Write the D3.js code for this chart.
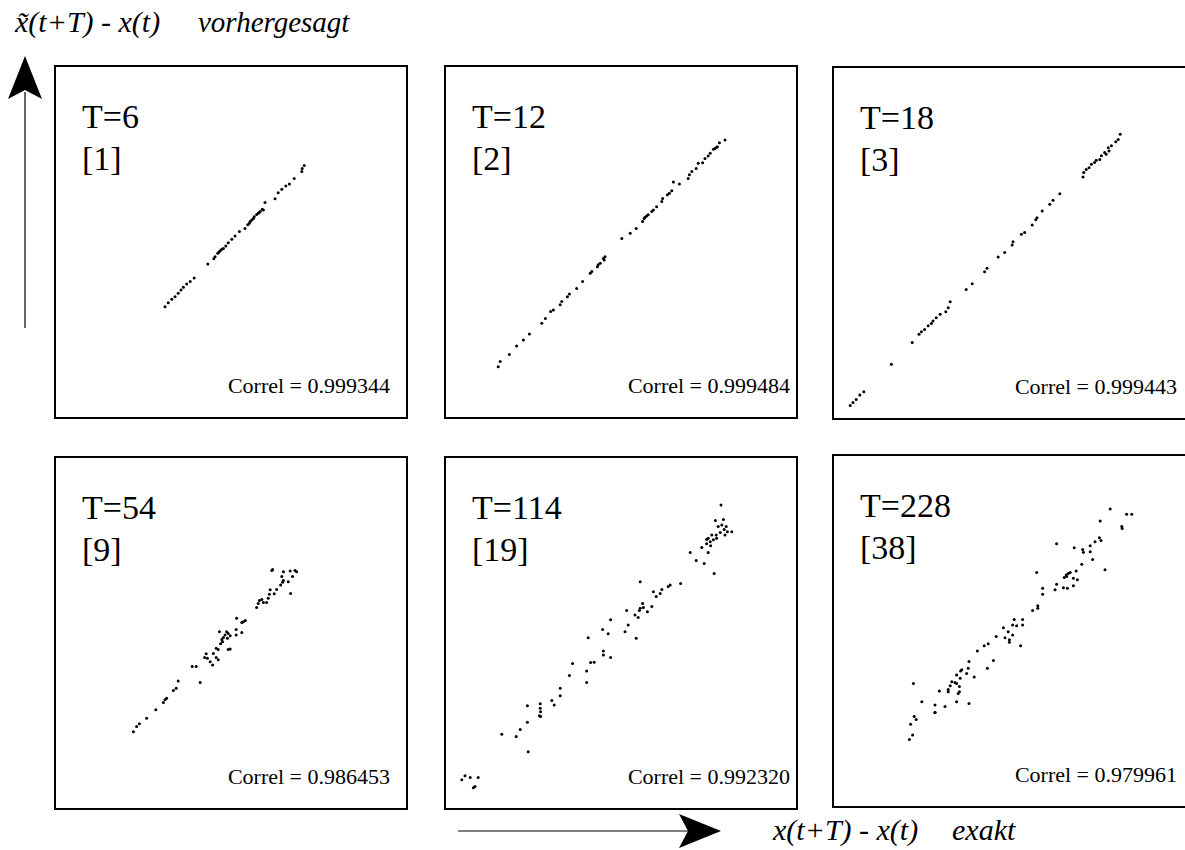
<!DOCTYPE html>
<html>
<head>
<meta charset="utf-8">
<script src="https://cdn.jsdelivr.net/npm/d3@7"></script>
<style>
  body { margin: 0; background: #fff; }
  svg { display: block; }
</style>
</head>
<body>
<svg id="chart" width="1185" height="850"></svg>
<script>
// prediction horizon T and number of steps
const horizons = [6, 12, 18, 54, 114, 228];
const steps = [1, 2, 3, 9, 19, 38];
const correls = ["0.999344", "0.999484", "0.999443", "0.986453", "0.992320", "0.979961"];

// exact x(t+T)-x(t) vs predicted (arbitrary units 0..88)
const exact_T6 = [62.3,61.8,61.7,59.8,58.6,57.7,56.7,55.8,55.0,52.5,51.8,51.3,50.8,50.4,49.8,49.2,48.6,48.2,47.5,46.1,45.0,44.2,43.3,42.7,42.1,41.3,40.7,40.0,39.7,38.2,34.8,33.8,32.9,32.1,31.5,30.8,30.0,29.2,28.3,27.5,48.8,49.6,41.7,41.0,51.0,52.1];
const pred_T6 = [63.1,62.4,61.6,59.9,58.5,58.0,57.2,56.3,54.8,53.9,52.2,51.6,51.2,50.9,50.3,49.5,48.7,48.3,47.4,46.6,45.5,44.7,43.8,43.0,42.4,41.8,41.2,40.3,39.8,38.5,35.0,34.1,33.5,32.7,32.0,31.2,30.3,29.7,28.8,27.8,49.1,49.9,42.2,41.5,51.3,52.0];

const exact_T12 = [70.0,68.6,68.1,67.1,67.5,66.3,65.8,65.0,64.4,63.3,62.8,61.7,61.1,60.8,58.6,57.1,56.7,56.1,55.6,54.4,54.2,52.9,52.1,51.7,50.4,49.8,49.4,47.8,46.3,44.2,40.0,39.8,38.8,38.1,36.7,36.3,34.4,32.9,31.1,30.6,29.2,28.8,27.1,26.4,25.1,24.2,21.1,19.6,17.9,16.1,13.8,13.3,50.0,50.8,67.9,39.6,38.3];
const pred_T12 = [69.5,68.8,67.8,67.2,67.4,66.2,65.5,64.9,63.8,63.7,62.4,61.6,60.8,59.9,58.5,59.0,56.8,56.2,55.8,54.9,54.1,52.8,52.0,51.6,50.5,49.9,49.1,47.4,46.2,44.9,40.3,39.5,38.7,37.8,36.6,36.2,34.1,32.4,31.0,30.3,29.1,28.3,27.0,26.6,24.9,23.7,21.0,19.5,18.0,15.9,14.1,12.8,50.2,50.8,67.7,39.9,38.3];

const exact_T18 = [71.8,71.3,70.7,69.6,68.8,69.0,67.9,68.3,67.1,66.7,65.8,65.4,64.6,64.0,63.3,62.7,62.5,56.7,55.0,54.2,52.3,51.0,50.7,49.8,47.9,47.1,45.0,44.8,42.9,41.3,38.5,37.9,34.8,33.3,29.3,28.8,28.2,26.8,25.8,25.0,24.6,23.8,22.9,22.1,21.5,19.8,14.6,7.7,6.7,5.8,5.0,4.3];
const pred_T18 = [71.2,69.9,69.3,68.3,67.8,67.0,66.6,66.2,65.8,64.9,64.7,64.1,63.7,62.8,62.4,61.6,60.5,56.3,54.7,53.7,52.0,50.3,49.8,48.5,46.6,46.2,44.3,43.5,41.6,40.5,37.7,36.8,33.8,32.4,29.3,27.8,26.8,26.2,25.3,24.5,23.9,23.3,22.4,21.8,21.2,19.1,13.7,6.8,6.0,4.9,4.1,3.4];

const exact_T54 = [54.4,54.2,57.1,58.8,60.0,60.4,59.4,56.7,57.1,56.9,58.3,56.4,55.4,53.8,54.8,53.6,58.9,53.3,52.9,51.7,51.1,50.8,50.4,52.1,45.4,47.1,47.6,46.7,42.9,43.3,42.5,42.1,41.7,41.1,43.8,45.3,43.1,41.9,41.4,46.7,45.3,43.3,43.8,40.8,40.3,39.6,37.8,38.1,37.4,40.3,40.8,38.8,39.4,34.3,35.3,36.3,30.8,30.3,29.6,27.9,27.5,27.1,25.2,22.9,21.1,20.4,19.6];
const pred_T54 = [59.9,59.6,59.3,59.5,59.6,59.3,58.1,58.1,57.1,56.7,56.8,56.0,54.9,54.8,53.8,53.7,53.9,52.7,51.6,52.4,52.1,51.4,50.4,51.6,47.7,46.8,47.1,46.6,44.3,43.9,43.5,42.9,42.4,44.3,43.3,44.9,42.7,41.8,41.3,44.1,43.5,39.9,40.0,39.9,40.2,38.9,38.8,37.7,37.9,37.9,37.3,36.8,36.0,35.6,35.6,31.6,32.0,30.2,29.6,27.7,27.3,26.6,24.8,22.7,21.3,20.6,19.3];

const exact_T114 = [69.0,67.6,69.6,68.3,69.2,70.3,69.8,70.6,71.7,68.8,67.8,66.7,65.8,65.4,66.3,67.1,67.9,70.0,64.2,66.4,65.4,61.3,65.8,62.8,64.8,67.3,58.9,56.3,55.8,54.2,53.8,52.8,52.1,48.8,49.4,48.8,49.6,50.6,48.6,51.7,47.5,48.3,45.4,41.4,39.4,40.8,45.8,45.0,47.8,35.8,39.6,39.6,41.4,37.3,36.4,35.4,35.4,31.9,31.1,28.8,28.8,26.7,27.3,23.8,23.8,23.9,23.6,23.9,20.6,20.6,18.8,17.8,14.2,20.8,5.0,4.2,6.3,7.1,8.3,7.5];
const pred_T114 = [76.0,72.1,72.4,70.6,71.0,70.6,69.9,69.3,69.3,69.1,68.5,68.5,67.7,67.4,66.8,67.3,67.7,68.5,65.4,65.8,66.3,64.1,64.1,62.1,61.4,58.9,56.4,56.0,55.6,54.9,53.9,53.1,54.3,56.8,51.4,50.2,50.4,49.3,49.6,50.6,48.5,47.9,49.6,47.3,44.9,43.8,46.0,44.3,42.7,42.8,39.5,38.5,37.9,36.7,36.6,34.5,31.6,36.4,33.4,30.2,28.3,27.1,26.0,26.3,25.2,24.3,23.3,23.1,25.8,21.7,19.9,18.1,18.7,14.3,8.3,7.3,7.9,5.3,7.9,5.6];

const exact_T228 = [69.3,73.4,74.7,66.8,72.2,72.3,55.9,60.3,62.4,62.6,64.3,64.3,65.5,66.6,67.0,64.9,68.0,62.2,60.8,59.3,58.8,58.3,57.8,58.4,60.1,61.1,50.9,52.4,52.4,55.9,55.5,57.6,58.6,60.1,49.9,51.2,51.2,45.3,47.4,44.9,45.9,47.4,42.6,43.8,44.9,43.0,44.1,44.1,40.8,46.9,38.8,37.8,36.1,40.1,38.6,34.0,33.8,35.3,32.2,31.9,30.9,31.8,33.4,30.5,29.7,30.9,31.6,29.3,28.8,28.8,31.6,31.3,30.9,34.0,26.6,20.1,22.2,25.5,28.0,25.5,25.5,20.8,20.3,19.4,19.9,19.1];
const pred_T228 = [74.5,73.2,73.2,71.5,70.1,69.6,65.8,64.8,64.4,63.7,65.3,63.8,66.3,67.3,66.6,61.9,59.3,60.7,59.0,58.6,58.4,58.0,57.4,57.6,57.2,56.8,58.6,54.7,53.2,55.7,54.3,54.8,54.7,55.3,49.1,50.3,49.7,46.9,46.9,45.5,45.3,45.5,44.8,43.8,43.0,42.3,41.8,41.2,42.6,40.3,40.8,40.3,39.0,36.6,34.7,36.4,34.7,32.5,34.3,34.0,33.0,32.2,33.4,31.1,31.3,30.9,30.1,30.3,29.4,28.8,28.8,28.4,26.3,25.9,29.0,30.9,26.3,25.5,25.1,23.6,23.6,21.9,22.6,20.7,18.0,16.9,16.3];

const exactSeries = [exact_T6, exact_T12, exact_T18, exact_T54, exact_T114, exact_T228];
const predSeries = [pred_T6, pred_T12, pred_T18, pred_T54, pred_T114, pred_T228];

const svg = d3.select("#chart");
const serif = "'Liberation Serif', 'Times New Roman', serif";

// panel layout
const size = 352;
const colX = [55, 445, 833];
const rowY = [66, 457];
const boxW = [352, 352, 360]; // right column is cut by the page edge

horizons.forEach((T, i) => {
    const col = i % 3, row = Math.floor(i / 3);
    const left = colX[col], top = rowY[row] + (col === 2 ? (row === 0 ? 1 : -2) : 0);

    const x = d3.scaleLinear().domain([0, 88]).range([left, left + size]);
    const y = d3.scaleLinear().domain([0, 88]).range([top + size, top]);

    const g = svg.append("g").attr("class", "panel");

    g.append("rect")
        .attr("x", left).attr("y", top)
        .attr("width", boxW[col]).attr("height", size)
        .style("fill", "none")
        .style("stroke", "#000")
        .style("stroke-width", 2);

    const pts = exactSeries[i].map((v, k) => [v, predSeries[i][k]]);
    g.selectAll("circle")
        .data(pts)
        .enter().append("circle")
        .attr("cx", d => x(d[0]))
        .attr("cy", d => y(d[1]))
        .attr("r", 1.5)
        .style("fill", "#000");

    // T label and step count
    g.append("text")
        .attr("x", left + 27).attr("y", top + 62)
        .style("font-family", serif).style("font-size", "34px")
        .text("T=" + T);
    g.append("text")
        .attr("x", left + 27).attr("y", top + 104)
        .style("font-family", serif).style("font-size", "34px")
        .text("[" + steps[i] + "]");

    // correlation
    const corrRight = [390, 790, 1177][col];
    g.append("text")
        .attr("x", corrRight).attr("y", top + size - 25)
        .attr("text-anchor", "end")
        .style("font-family", serif).style("font-size", "22px")
        .text("Correl = " + correls[i]);
});

// axis hints: arrows
svg.append("line")
    .attr("x1", 25).attr("y1", 92).attr("x2", 25).attr("y2", 328)
    .style("stroke", "#000").style("stroke-width", 1.2);
svg.append("path")
    .attr("d", "M25,56 L42,99 L25,90 L8,99 Z")
    .style("fill", "#000");

svg.append("line")
    .attr("x1", 458).attr("y1", 831).attr("x2", 690).attr("y2", 831)
    .style("stroke", "#000").style("stroke-width", 1.2);
svg.append("path")
    .attr("d", "M721,831 L679,814 L688,831 L679,848 Z")
    .style("fill", "#000");

// axis captions
const capStyle = t => t.style("font-family", serif).style("font-size", "30px").style("font-style", "italic");

svg.append("text").attr("x", 15).attr("y", 32).call(capStyle)
    .text("x\u0303(t+T) - x(t)");
svg.append("text").attr("x", 198).attr("y", 32).call(capStyle)
    .style("font-size", "29px")
    .text("vorhergesagt");

svg.append("text").attr("x", 773).attr("y", 840).call(capStyle)
    .text("x(t+T) - x(t)");
svg.append("text").attr("x", 952).attr("y", 840).call(capStyle)
    .text("exakt");
</script>
</body>
</html>
